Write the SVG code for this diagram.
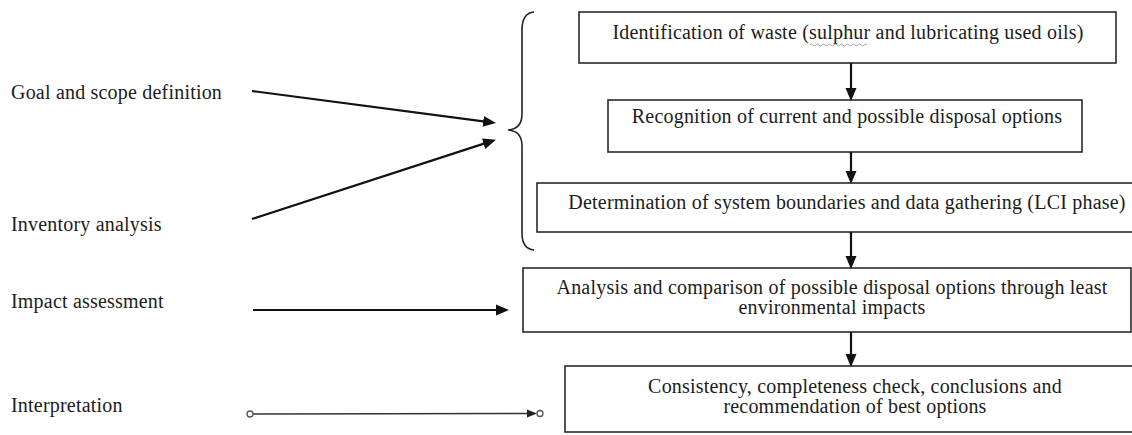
<svg xmlns="http://www.w3.org/2000/svg" width="1132" height="435" viewBox="0 0 1132 435">
<style>
text{font-family:"Liberation Serif","Times New Roman",serif;font-size:20px;letter-spacing:0.2px;fill:#1c1c1c}
.c{text-anchor:middle}
.box{fill:#fff;stroke:#2a2a2a;stroke-width:1.6}
.arr{stroke:#111;stroke-width:2.2;fill:none}
.thin{stroke:#333;stroke-width:1.5;fill:none}
.brace{stroke:#222;stroke-width:1.6;fill:none}
</style>
<defs>
<marker id="ah" markerUnits="userSpaceOnUse" markerWidth="14" markerHeight="12" refX="6" refY="6" orient="auto">
<path d="M0,0.5 L13,6 L0,11.5 z" fill="#111"/>
</marker>
<marker id="ahs" markerUnits="userSpaceOnUse" markerWidth="11" markerHeight="10" refX="4" refY="5" orient="auto">
<path d="M0,1 L10,5 L0,9 z" fill="#222"/>
</marker>
</defs>
<rect width="1132" height="435" fill="#fff"/>

<g id="label-goal"><text x="11" y="99">Goal and scope definition</text></g>
<g id="label-inventory"><text x="11" y="231">Inventory analysis</text></g>
<g id="label-impact"><text x="11" y="308">Impact assessment</text></g>
<g id="label-interpretation"><text x="11" y="412">Interpretation</text></g>

<g id="brace"><path class="brace" d="M534,12 Q522,13 522,30 L522,114 Q522,129 508,130 Q522,131 522,146 L522,233 Q522,249 534,250"/></g>

<g id="node-identification">
<rect class="box" x="579" y="12" width="537" height="51"/>
<text class="c" x="848" y="39">Identification of waste (sulphur and lubricating used oils)</text>
<path d="M810,45 q1.5,-2 3,0 t3,0 t3,0 t3,0 t3,0 t3,0 t3,0 t3,0 t3,0 t3,0 t3,0 t3,0 t3,0 t3,0 t3,0 t3,0 t3,0 t3,0 t3,0" fill="none" stroke="#9a9a9a" stroke-width="0.9"/>
</g>
<g id="node-recognition">
<rect class="box" x="608" y="100" width="474" height="52"/>
<text class="c" x="847" y="123">Recognition of current and possible disposal options</text>
</g>
<g id="node-determination">
<rect class="box" x="537" y="183" width="600" height="49"/>
<text class="c" x="847" y="209">Determination of system boundaries and data gathering (LCI phase)</text>
</g>
<g id="node-analysis">
<rect class="box" x="523" y="268" width="608" height="64"/>
<text class="c" x="832" y="294">Analysis and comparison of possible disposal options through least</text>
<text class="c" x="832" y="314">environmental impacts</text>
</g>
<g id="node-consistency">
<rect class="box" x="565" y="366" width="572" height="66"/>
<text class="c" x="855" y="393">Consistency, completeness check, conclusions and</text>
<text class="c" x="855" y="413">recommendation of best options</text>
</g>

<g id="connectors">
<line class="arr" x1="851" y1="63" x2="851" y2="94" marker-end="url(#ah)"/>
<line class="arr" x1="851" y1="152" x2="851" y2="177" marker-end="url(#ah)"/>
<line class="arr" x1="851" y1="232" x2="851" y2="262" marker-end="url(#ah)"/>
<line class="arr" x1="851" y1="332" x2="851" y2="360" marker-end="url(#ah)"/>
<line class="arr" x1="252" y1="91" x2="489.1" y2="122.2" marker-end="url(#ah)"/>
<line class="arr" x1="252" y1="219" x2="489.3" y2="141.9" marker-end="url(#ah)"/>
<line class="arr" x1="253" y1="310" x2="502" y2="310" marker-end="url(#ah)"/>
<line class="thin" x1="253" y1="414" x2="531" y2="413.5" marker-end="url(#ahs)"/>
<circle cx="250" cy="414" r="3" fill="#fff" stroke="#555" stroke-width="1.3"/>
<circle cx="540" cy="413.5" r="3" fill="#fff" stroke="#555" stroke-width="1.3"/>
</g>
</svg>
